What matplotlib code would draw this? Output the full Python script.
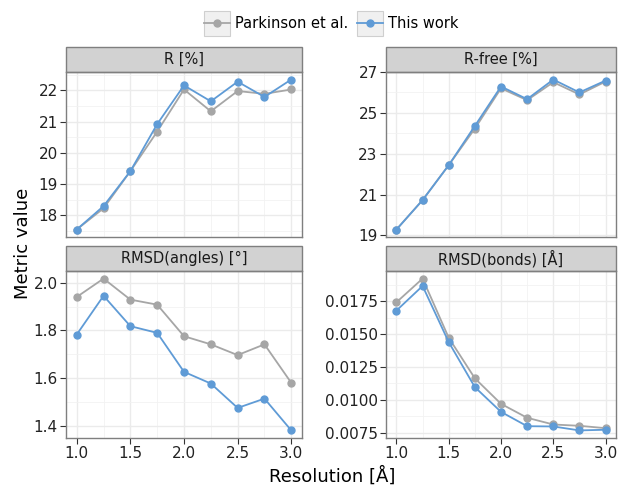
import matplotlib
matplotlib.use("Agg")
import matplotlib.pyplot as plt
from matplotlib.patches import Rectangle
from matplotlib.legend_handler import HandlerLine2D
from matplotlib.ticker import AutoMinorLocator, MultipleLocator, FormatStrFormatter

resolution = [1.0, 1.25, 1.5, 1.75, 2.0, 2.25, 2.5, 2.75, 3.0]

r_parkinson = [17.54, 18.22, 19.41, 20.68, 22.03, 21.33, 21.98, 21.89, 22.03]
r_this = [17.54, 18.29, 19.41, 20.92, 22.16, 21.65, 22.28, 21.79, 22.35]

rfree_parkinson = [19.29, 20.73, 22.44, 24.23, 26.20, 25.62, 26.50, 25.90, 26.53]
rfree_this = [19.29, 20.73, 22.44, 24.36, 26.29, 25.67, 26.63, 26.00, 26.58]

angles_parkinson = [1.940, 2.017, 1.929, 1.908, 1.776, 1.742, 1.697, 1.742, 1.581]
angles_this = [1.783, 1.945, 1.818, 1.790, 1.627, 1.578, 1.476, 1.515, 1.382]

bonds_parkinson = [0.01742, 0.01922, 0.01472, 0.01164, 0.00970, 0.00864, 0.00813, 0.00803, 0.00785]
bonds_this = [0.01679, 0.01866, 0.01439, 0.01097, 0.00909, 0.00800, 0.00798, 0.00768, 0.00773]

panel_titles = ["R [%]", "R-free [%]", "RMSD(angles) [°]", "RMSD(bonds) [Å]"]
series_names = ["Parkinson et al.", "This work"]

# y tick positions per panel
r_ticks = [18, 19, 20, 21, 22]
rfree_ticks = [19, 21, 23, 25, 27]
angles_ticks = [1.4, 1.6, 1.8, 2.0]
bonds_ticks = [0.0075, 0.0100, 0.0125, 0.0150, 0.0175]

GREY = "#a6a6a6"
BLUE = "#5f9bd6"


class BoxedLine(HandlerLine2D):
    # legend key with a grey background box, ggplot style
    def create_artists(self, legend, orig_handle, xdescent, ydescent,
                       width, height, fontsize, trans):
        box = Rectangle((-xdescent, -ydescent - 5.3), width, height + 10.6,
                        facecolor="#f0f0f0", edgecolor="#cfcfcf", lw=0.8,
                        transform=trans)
        arts = super().create_artists(legend, orig_handle, xdescent, ydescent,
                                      width, height, fontsize, trans)
        return [box] + list(arts)


fig = plt.figure(figsize=(6.19, 4.86), dpi=100)
W, H = 619.0, 486.0


def px_axes(x0, x1, y0, y1):
    return fig.add_axes([x0 / W, 1 - y1 / H, (x1 - x0) / W, (y1 - y0) / H])


axes = [
    px_axes(66, 302, 72, 237),
    px_axes(386, 616, 72, 237),
    px_axes(66, 302, 271, 438),
    px_axes(386, 616, 271, 438),
]

data = [
    (r_parkinson, r_this),
    (rfree_parkinson, rfree_this),
    (angles_parkinson, angles_this),
    (bonds_parkinson, bonds_this),
]
yticks = [r_ticks, rfree_ticks, angles_ticks, bonds_ticks]
yfmts = ["%d", "%d", "%.1f", "%.4f"]

for i, (ax, (yp, yt), title) in enumerate(zip(axes, data, panel_titles)):
    l1, = ax.plot(resolution, yp, "-o", color=GREY, ms=5, lw=1.3, zorder=3)
    l2, = ax.plot(resolution, yt, "-o", color=BLUE, ms=5, lw=1.3, zorder=4)
    ax.set_xlim(0.9, 3.1)
    ax.xaxis.set_major_locator(MultipleLocator(0.5))
    ax.xaxis.set_minor_locator(AutoMinorLocator(2))
    ax.set_yticks(yticks[i])
    ax.yaxis.set_minor_locator(AutoMinorLocator(2))
    ax.yaxis.set_major_formatter(FormatStrFormatter(yfmts[i]))
    ax.xaxis.set_major_formatter(FormatStrFormatter("%.1f"))
    ax.grid(True, which="major", color="#ebebeb", lw=1.0, zorder=0)
    ax.grid(True, which="minor", color="#f2f2f2", lw=0.6, zorder=0)
    ax.set_axisbelow(True)
    for s in ax.spines.values():
        s.set_color("#7f7f7f")
        s.set_linewidth(1.0)
    ax.tick_params(which="minor", length=0)
    ax.tick_params(which="major", length=4, width=0.8, color="#333333",
                   labelsize=11, labelcolor="#222222", pad=2)
    if i < 2:
        ax.tick_params(axis="x", which="both", length=0, labelbottom=False)
    # facet strip
    strip_h = 25.0 / ((ax.get_position().height) * H)
    ax.add_patch(Rectangle((0, 1), 1, strip_h, transform=ax.transAxes,
                           facecolor="#d2d2d2", edgecolor="#7f7f7f", lw=1.0,
                           clip_on=False))
    ax.text(0.5, 1 + strip_h / 2, title, transform=ax.transAxes,
            ha="center", va="center", fontsize=10.5, color="#1a1a1a")

fig.text(0.037, 0.5, "Metric value", rotation=90, ha="center", va="center",
         fontsize=13)
fig.text(0.537, 0.02, "Resolution [Å]", ha="center", va="center", fontsize=13)

fig.legend([l1, l2], series_names, loc="center", bbox_to_anchor=(0.535, 0.951),
           ncol=2, frameon=False, fontsize=10.5, handlelength=1.8,
           columnspacing=0.6, handletextpad=0.35,
           handler_map={l1: BoxedLine(), l2: BoxedLine()})

fig.savefig("out.png", dpi=100)
